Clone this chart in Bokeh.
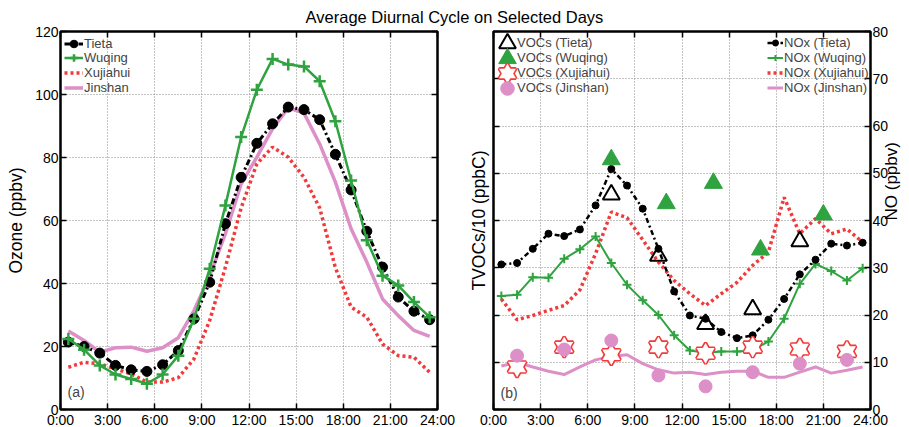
import math
from bokeh.plotting import figure
from bokeh.models import (Range1d, LinearAxis, FixedTicker, Legend, LegendItem, Label, Div,
                          CustomLabelingPolicy)
from bokeh.layouts import column, row
from bokeh.embed import file_html
from bokeh.resources import INLINE

FONT = "Liberation Sans"

# ---------------------------------------------------------------- data
hours = [0.5, 1.5, 2.5, 3.5, 4.5, 5.5, 6.5, 7.5, 8.5, 9.5, 10.5, 11.5,
         12.5, 13.5, 14.5, 15.5, 16.5, 17.5, 18.5, 19.5, 20.5, 21.5, 22.5, 23.5]
tick_hours = [0, 3, 6, 9, 12, 15, 18, 21, 24]
tick_labels = ["0:00", "3:00", "6:00", "9:00", "12:00", "15:00", "18:00", "21:00", "24:00"]
o3_ticks = [0, 20, 40, 60, 80, 100, 120]
conc_ticks = [0, 10, 20, 30, 40, 50, 60, 70, 80]

# Ozone (ppbv), hourly means
o3_tieta = [21.4, 20.0, 17.9, 14.0, 12.6, 12.1, 14.2, 18.7, 28.8, 40.4, 59.0, 73.7,
            84.5, 90.7, 96.0, 95.2, 92.0, 81.0, 69.7, 56.6, 45.2, 35.7, 31.2, 28.5]
o3_wuqing = [22.4, 19.0, 14.0, 11.1, 9.7, 8.2, 11.1, 17.1, 28.8, 44.7, 64.8, 86.5,
             101.5, 111.3, 109.5, 108.9, 104.2, 91.5, 72.7, 53.7, 42.5, 39.4, 34.1, 29.3]
o3_xujiahui = [13.4, 15.0, 14.5, 12.9, 11.3, 8.7, 8.7, 10.1, 16.1, 28.3, 45.2, 64.0,
               78.0, 83.3, 80.1, 73.7, 64.0, 45.0, 32.5, 29.3, 20.8, 17.1, 16.6, 11.8]
o3_jinshan = [24.9, 21.9, 18.2, 19.6, 19.8, 18.5, 19.6, 22.8, 31.4, 42.5, 55.8, 71.6,
              80.1, 89.1, 95.8, 94.1, 84.3, 72.2, 57.4, 46.8, 35.1, 29.8, 25.1, 23.2]

# NOx (ppbv), hourly means
nox_tieta = [30.7, 31.0, 34.0, 37.2, 36.7, 38.1, 43.2, 50.9, 47.4, 42.5, 34.0, 25.0,
             19.9, 19.2, 16.4, 15.1, 15.7, 19.0, 23.4, 28.6, 31.7, 35.1, 34.7, 35.3]
nox_wuqing = [24.0, 24.3, 28.0, 27.9, 31.9, 33.9, 36.6, 31.0, 26.4, 23.1, 20.0, 15.7,
              12.5, 12.0, 12.3, 12.3, 12.5, 14.4, 19.2, 26.6, 30.8, 29.3, 27.3, 29.9]
nox_xujiahui = [23.4, 19.0, 19.9, 21.0, 22.0, 25.3, 33.0, 41.8, 40.6, 35.9, 31.2, 27.3,
                24.5, 22.0, 24.5, 26.9, 30.5, 33.3, 44.9, 37.2, 40.4, 37.2, 38.2, 35.4]
nox_jinshan = [9.2, 10.0, 9.0, 8.1, 7.4, 9.0, 10.5, 11.2, 11.6, 9.7, 8.4, 7.7,
               7.9, 7.4, 7.9, 8.1, 8.1, 6.8, 6.8, 7.9, 9.0, 7.7, 8.3, 9.0]

# TVOCs/10 (ppbC), canister samples
voc_tieta_h = [7.5, 10.5, 13.5, 16.5, 19.5]
voc_tieta = [45.5, 32.5, 18.1, 21.2, 35.6]
voc_wuqing_h = [7.5, 11.0, 14.0, 17.0, 21.0]
voc_wuqing = [52.9, 43.6, 47.9, 33.8, 41.2]
voc_xujiahui_h = [1.5, 4.5, 7.5, 10.5, 13.5, 16.5, 19.5, 22.5]
voc_xujiahui = [9.0, 13.2, 11.6, 13.2, 11.9, 13.2, 12.8, 12.3]
voc_jinshan_h = [1.5, 4.5, 7.5, 10.5, 13.5, 16.5, 19.5, 22.5]
voc_jinshan = [11.4, 12.7, 14.6, 7.2, 4.9, 7.9, 9.7, 10.5]

BLACK = "#000000"
GREEN = "#2fa33f"
RED = "#f23a3a"
PINK = "#dd8fc7"
FRAME_H = 378

NO_LABELS = "const all = [...indices]; for (const i of all) indices.unset(i); return indices"


def style_axis(ax):
    ax.axis_line_color = None
    ax.major_tick_in = 6
    ax.major_tick_out = 0
    ax.major_tick_line_width = 1.5
    ax.minor_tick_line_color = None
    ax.minor_tick_out = 0
    ax.major_label_text_font = FONT
    ax.major_label_text_font_size = "14px"
    ax.major_label_text_color = "black"
    ax.major_label_standoff = 2
    ax.axis_label_text_font = FONT
    ax.axis_label_text_font_size = "17.5px"
    ax.axis_label_text_font_style = "normal"
    ax.axis_label_text_color = "black"


def ticks_only(ax, ticks):
    """Inward tick marks with no numbers."""
    ax.ticker = FixedTicker(ticks=ticks)
    ax.major_label_overrides = {t: "" for t in ticks}
    ax.major_label_policy = CustomLabelingPolicy(code=NO_LABELS)
    ax.major_label_standoff = 0


def style_frame(p, y_ticks, grid_y):
    p.outline_line_color = "black"
    p.outline_line_width = 2.5
    p.border_fill_alpha = 0
    p.xaxis.ticker = FixedTicker(ticks=tick_hours)
    p.xaxis.major_label_overrides = {h: s for h, s in zip(tick_hours, tick_labels)}
    p.yaxis.ticker = FixedTicker(ticks=y_ticks)
    p.xgrid.ticker = FixedTicker(ticks=tick_hours)
    p.ygrid.ticker = FixedTicker(ticks=grid_y)
    for g in (p.xgrid, p.ygrid):
        g.grid_line_color = "#8a8a8a"
        g.grid_line_dash = "1 2"
        g.grid_line_width = 1
    for ax in p.axis:
        style_axis(ax)
    top = LinearAxis()
    style_axis(top)
    ticks_only(top, tick_hours)
    p.add_layout(top, "above")


def legend_box(items, x, top, gw, gh, standoff, item_h=15):
    """Legend whose box top is `top` px below the frame top; location is the box's
    bottom-left corner, measured from the frame's bottom-left."""
    h = len(items) * max(gh, item_h)
    return Legend(items=items, location=(x, FRAME_H - top - h), orientation="vertical",
                  glyph_width=gw, glyph_height=gh, label_height=item_h, spacing=0,
                  padding=0, margin=0, label_standoff=standoff,
                  label_text_font=FONT, label_text_font_size="13px",
                  background_fill_alpha=0, border_line_color=None)


# ---------------------------------------------------------------- (a) ozone
p1 = figure(frame_width=377, frame_height=FRAME_H, x_range=Range1d(0, 24), y_range=Range1d(0, 120),
            output_backend="svg", toolbar_location=None,
            min_border_left=60, min_border_right=19, min_border_top=9, min_border_bottom=17)
p1.yaxis.axis_label = "Ozone (ppbv)"
style_frame(p1, o3_ticks, [20, 40, 60, 80, 100])
p1.yaxis.axis_label_standoff = 6
right1 = LinearAxis()
style_axis(right1)
ticks_only(right1, o3_ticks)
p1.add_layout(right1, "right")

l_jin = p1.line(hours, o3_jinshan, line_color=PINK, line_width=3.5)
l_xu = p1.line(hours, o3_xujiahui, line_color=RED, line_width=3.5, line_dash="3 3")
l_ti = p1.line(hours, o3_tieta, line_color=BLACK, line_width=3, line_dash="6 3 2 3")
s_ti = p1.scatter(hours, o3_tieta, marker="circle", size=10, fill_color=BLACK, line_color=BLACK)
l_wu = p1.line(hours, o3_wuqing, line_color=GREEN, line_width=2.5)
s_wu = p1.scatter(hours, o3_wuqing, marker="cross", size=12, line_color=GREEN, line_width=2.5)

ozone_entries = [("Tieta", [l_ti, s_ti]), ("Wuqing", [l_wu, s_wu]),
                 ("Xujiahui", [l_xu]), ("Jinshan", [l_jin])]
for i, (name, rends) in enumerate(ozone_entries):
    # one box per row so the marker samples can be drawn larger than the row pitch
    p1.add_layout(legend_box([LegendItem(label=name, renderers=rends)],
                             x=4, top=12 + 14.7 * i - 12.5, gw=19, gh=25, standoff=1))
p1.add_layout(Label(x=0.45, y=5.5, text="(a)", text_font=FONT, text_font_size="14px",
                    text_baseline="middle", text_align="left"))

# ---------------------------------------------------------------- (b) VOCs and NOx
p2 = figure(frame_width=377, frame_height=FRAME_H, x_range=Range1d(0, 24), y_range=Range1d(0, 80),
            output_backend="svg", toolbar_location=None,
            min_border_left=37, min_border_right=37, min_border_top=9, min_border_bottom=17)
p2.extra_y_ranges = {"no": Range1d(0, 80)}
p2.yaxis.axis_label = "TVOCs/10 (ppbC)"
style_frame(p2, conc_ticks, [10, 20, 30, 40, 50, 60, 70])
# left axis of panel (b) carries ticks only, no numbers
ticks_only(p2.yaxis[0], conc_ticks)
p2.yaxis[0].axis_label_standoff = 5

# right-hand NO scale: numbered ticks on one axis, the title on a second, tick-free one
right_ax = LinearAxis(y_range_name="no")
style_axis(right_ax)
right_ax.ticker = FixedTicker(ticks=conc_ticks)
right_ax.major_label_standoff = 2
p2.add_layout(right_ax, "right")

title_ax = LinearAxis(y_range_name="no", axis_label="NO (ppbv)", bounds=(0, 63.4))
style_axis(title_ax)
ticks_only(title_ax, [])
title_ax.major_tick_in = 0
title_ax.axis_label_standoff = 0
title_ax.axis_label_text_font_size = "17px"
if "axis_label_orientation" in title_ax.properties():
    title_ax.axis_label_orientation = math.pi / 2
p2.add_layout(title_ax, "right")

n_jin = p2.line(hours, nox_jinshan, y_range_name="no", line_color=PINK, line_width=3)
n_xu = p2.line(hours, nox_xujiahui, y_range_name="no", line_color=RED, line_width=3.5, line_dash="3 3")
n_wu = p2.line(hours, nox_wuqing, y_range_name="no", line_color=GREEN, line_width=2)
ns_wu = p2.scatter(hours, nox_wuqing, y_range_name="no", marker="cross", size=9,
                   line_color=GREEN, line_width=2)
n_ti = p2.line(hours, nox_tieta, y_range_name="no", line_color=BLACK, line_width=2.5,
               line_dash="5 3 2 3")
ns_ti = p2.scatter(hours, nox_tieta, y_range_name="no", marker="circle", size=7,
                   fill_color=BLACK, line_color=BLACK)

v_ti = p2.scatter(voc_tieta_h, voc_tieta, marker="triangle", size=17,
                  fill_color=None, line_color=BLACK, line_width=2)
v_wu = p2.scatter(voc_wuqing_h, voc_wuqing, marker="triangle", size=18,
                  fill_color=GREEN, line_color=GREEN, line_width=1)
# six-pointed open star: two outlined triangles, interiors cleared with white
v_xu1 = p2.scatter(voc_xujiahui_h, voc_xujiahui, marker="triangle", size=18,
                   fill_color=None, line_color=RED, line_width=3.2)
v_xu2 = p2.scatter(voc_xujiahui_h, voc_xujiahui, marker="inverted_triangle", size=18,
                   fill_color=None, line_color=RED, line_width=3.2)
v_xu3 = p2.scatter(voc_xujiahui_h, voc_xujiahui, marker="triangle", size=18,
                   fill_color="white", line_color=None)
v_xu4 = p2.scatter(voc_xujiahui_h, voc_xujiahui, marker="inverted_triangle", size=18,
                   fill_color="white", line_color=None)
v_jin = p2.scatter(voc_jinshan_h, voc_jinshan, marker="circle", size=13,
                   fill_color=PINK, line_color=PINK)

# VOC key: large marker samples in their own boxes, names in a text-only box beside them
voc_entries = [("VOCs (Tieta)", [v_ti], 42), ("VOCs (Wuqing)", [v_wu], 44),
               ("VOCs (Xujiahui)", [v_xu1, v_xu2, v_xu3, v_xu4], 42), ("VOCs (Jinshan)", [v_jin], 34)]
for i, (name, rends, g) in enumerate(voc_entries):
    p2.add_layout(legend_box([LegendItem(label="", renderers=rends)],
                             x=14 - g / 2, top=11.7 + 15 * i - g / 2, gw=g, gh=g, standoff=0))
p2.add_layout(legend_box([LegendItem(label=name, renderers=[]) for name, _, _ in voc_entries],
                         x=24, top=11.7 - 7.5, gw=0, gh=15, standoff=0, item_h=15))

p2.add_layout(legend_box([LegendItem(label="NOx (Tieta)", renderers=[n_ti, ns_ti]),
                          LegendItem(label="NOx (Wuqing)", renderers=[n_wu, ns_wu]),
                          LegendItem(label="NOx (Xujiahui)", renderers=[n_xu]),
                          LegendItem(label="NOx (Jinshan)", renderers=[n_jin])],
                         x=274, top=11.7 - 7.5, gw=16, gh=15, standoff=1))
p2.add_layout(Label(x=0.45, y=3.45, text="(b)", text_font=FONT, text_font_size="14px",
                    text_baseline="middle", text_align="left"))

title = Div(text="Average Diurnal Cycle on Selected Days", width=909, height=22,
            margin=(0, 0, 0, 0),
            styles={"text-align": "center", "font-family": FONT, "font-size": "16.5px",
                    "line-height": "34px", "color": "black", "overflow": "visible"})

layout = column(title, row(p1, p2), spacing=0)
open("out.html", "w").write(file_html(layout, INLINE))
